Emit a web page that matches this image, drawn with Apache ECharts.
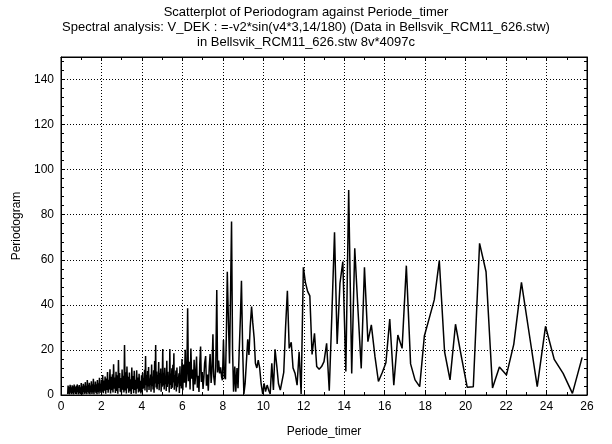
<!DOCTYPE html>
<html><head><meta charset="utf-8">
<script src="https://cdn.jsdelivr.net/npm/echarts@6/dist/echarts.min.js"></script>
<style>html,body{margin:0;padding:0;background:#fff}#c{width:612px;height:444px}</style>
</head><body><div id="c"></div>
<script>
const titleLines = [
  'Scatterplot of Periodogram against Periode_timer',
  'Spectral analysis: V_DEK : =-v2*sin(v4*3,14/180) (Data in Bellsvik_RCM11_626.stw)',
  'in Bellsvik_RCM11_626.stw 8v*4097c'
];
const xName = 'Periode_timer';
const yName = 'Periodogram';

// dense band 0.33 - 2
const bandShort = [[0.33,0.4],[0.35,4.2],[0.38,0.6],[0.40,3.6],[0.43,0.3],[0.45,4.5],[0.48,1.0],[0.50,3.4],[0.53,0.4],[0.55,4.3],[0.58,0.8],[0.60,3.9],[0.63,0.3],[0.65,4.6],[0.68,1.1],[0.70,3.5],[0.73,0.5],[0.75,4.1],[0.78,0.4],[0.80,4.7],[0.83,1.2],[0.85,3.7],[0.88,0.3],[0.90,4.4],[0.93,0.8],[0.95,3.4],[0.98,0.4],[1.00,5.3],[1.03,0.9],[1.05,3.9],[1.08,0.3],[1.10,5.0],[1.13,1.3],[1.15,4.2],[1.18,0.5],[1.20,5.7],[1.23,1.0],[1.25,3.9],[1.28,0.4],[1.30,6.6],[1.33,1.4],[1.35,4.5],[1.38,0.6],[1.40,5.4],[1.43,0.3],[1.45,4.2],[1.48,1.2],[1.50,6.1],[1.53,0.5],[1.55,4.8],[1.58,1.1],[1.60,7.2],[1.63,0.4],[1.65,4.5],[1.68,1.5],[1.70,6.0],[1.73,0.8],[1.75,4.7],[1.78,0.3],[1.80,6.6],[1.83,1.3],[1.85,5.2],[1.88,0.6],[1.90,7.6],[1.93,1.6],[1.95,5.0],[1.98,0.9]];
// dense band 2 - 4
const bandLow = [[2.00,6.8],[2.03,1.5],[2.06,8.9],[2.09,0.8],[2.12,6.4],[2.15,1.9],[2.18,8.2],[2.21,0.6],[2.24,7.3],[2.27,2.2],[2.30,10.2],[2.33,1.0],[2.36,6.8],[2.39,2.5],[2.42,11.4],[2.45,0.7],[2.48,8.1],[2.51,2.1],[2.54,9.2],[2.57,1.1],[2.60,13.6],[2.63,2.8],[2.66,7.7],[2.69,0.9],[2.72,10.3],[2.75,1.8],[2.78,8.7],[2.81,0.6],[2.84,15.5],[2.87,3.1],[2.90,9.8],[2.93,1.4],[2.96,7.5],[2.99,0.8],[3.02,11.3],[3.05,2.4],[3.08,8.5],[3.11,1.1],[3.14,22.2],[3.17,2.0],[3.20,10.1],[3.23,0.7],[3.26,12.6],[3.29,2.9],[3.32,8.1],[3.35,1.0],[3.38,10.0],[3.41,1.7],[3.44,7.0],[3.47,0.5],[3.50,12.2],[3.53,2.6],[3.56,8.4],[3.59,0.8],[3.62,10.7],[3.65,2.2],[3.68,6.8],[3.71,0.6],[3.74,11.0],[3.77,2.8],[3.80,7.8],[3.83,1.1],[3.86,9.4],[3.89,1.6],[3.92,6.3],[3.95,0.7],[3.98,8.8]];
// band 4 - 6
const bandMid = [[4.00,1.3],[4.03,9.8],[4.05,2.6],[4.08,7.4],[4.10,3.1],[4.13,11.2],[4.15,2.0],[4.18,17.3],[4.20,4.4],[4.23,8.9],[4.25,1.2],[4.28,10.6],[4.30,3.8],[4.33,12.4],[4.35,2.2],[4.38,7.3],[4.40,4.6],[4.43,9.1],[4.45,1.5],[4.48,13.5],[4.50,3.9],[4.53,8.2],[4.55,2.4],[4.58,11.0],[4.60,1.0],[4.63,15.1],[4.65,5.1],[4.68,22.2],[4.70,3.3],[4.73,10.4],[4.75,2.6],[4.78,8.7],[4.80,4.9],[4.83,14.6],[4.85,2.1],[4.88,9.7],[4.90,5.3],[4.93,11.8],[4.95,1.4],[4.98,8.6],[5.00,3.7],[5.03,20.4],[5.05,4.2],[5.08,9.9],[5.10,2.5],[5.13,12.1],[5.15,4.8],[5.18,8.4],[5.20,1.8],[5.23,15.2],[5.25,3.6],[5.28,10.3],[5.30,5.0],[5.33,7.6],[5.35,1.1],[5.38,20.4],[5.40,4.4],[5.43,9.5],[5.45,2.7],[5.48,11.9],[5.50,3.2],[5.53,13.4],[5.55,5.6],[5.58,18.5],[5.60,2.3],[5.63,8.8],[5.65,4.1],[5.68,10.9],[5.70,1.6],[5.73,12.2],[5.75,3.5],[5.78,7.9],[5.80,5.2],[5.83,9.6],[5.85,0.9],[5.88,12.8],[5.90,4.0],[5.93,8.3],[5.95,2.9],[5.98,16.0]];
// band 6 - 8
const bandUpper = [[6.02,2.1],[6.06,13.5],[6.10,5.4],[6.14,20.1],[6.18,3.3],[6.22,9.2],[6.26,38.5],[6.30,6.1],[6.34,14.8],[6.38,2.4],[6.42,20.6],[6.46,7.2],[6.50,11.3],[6.54,1.8],[6.58,15.6],[6.62,4.7],[6.66,9.4],[6.70,17.1],[6.74,3.2],[6.78,8.5],[6.82,1.3],[6.86,13.9],[6.90,21.5],[6.94,5.8],[6.98,10.2],[7.02,2.7],[7.06,7.6],[7.10,14.2],[7.15,17.3],[7.19,4.1],[7.24,9.1],[7.28,1.9],[7.33,12.7],[7.37,18.2],[7.42,5.3],[7.46,10.4],[7.51,27.0],[7.55,8.2],[7.60,4.4],[7.65,12.5],[7.70,46.6],[7.74,10.0],[7.79,15.3],[7.84,9.6],[7.89,12.3],[7.94,8.0],[7.98,6.5]];
// long periods 8 - 26
const longPeriods = [8.03,8.08,8.13,8.18,8.22,8.27,8.33,8.38,8.43,8.48,8.53,8.59,8.64,8.70,8.75,8.81,8.87,8.92,8.98,9.04,9.10,9.16,9.23,9.29,9.35,9.42,9.48,9.55,9.61,9.68,9.75,9.82,9.89,9.97,10.04,10.11,10.19,10.27,10.34,10.42,10.50,10.58,10.67,10.75,10.84,10.92,11.01,11.10,11.19,11.28,11.38,11.47,11.57,11.67,11.77,11.87,11.98,12.08,12.19,12.30,12.41,12.53,12.64,12.76,12.88,13.00,13.13,13.26,13.39,13.52,13.65,13.79,13.93,14.08,14.22,14.37,14.52,14.68,14.84,15.00,15.17,15.34,15.52,15.69,15.88,16.06,16.25,16.45,16.65,16.86,17.07,17.28,17.50,17.73,17.96,18.20,18.45,18.70,18.96,19.23,19.50,19.79,20.08,20.38,20.69,21.01,21.33,21.67,22.02,22.38,22.76,23.14,23.54,23.95,24.38,24.82,25.28,25.76];
const longValues = [24.4,8,7,30,54.7,35,14,45,77,20,1.5,12.6,1.5,12,3,20,35,50.7,20,0.5,5,14,24.7,17.8,30,39.2,32,25,14.1,12,15.5,12,5.2,0.5,5.2,1.5,4.4,2,0.5,14.1,2.2,20.3,12.6,5,2.2,1.9,10,30,46.3,20.7,23.4,12,9.6,4.4,19.2,0.5,56.7,50,46,44,18,27.4,12.6,11.4,12.6,14.8,22.9,1.9,36,72.2,22.6,49.6,59.2,10.4,91,9.6,65.1,37.7,11.8,56.7,23.7,31.1,17,6,10,14.3,33.7,4.4,26.6,20.7,57.4,13.8,6.7,3.7,26.2,34,42.2,59.6,19.2,6.7,31.4,17,3.4,3.7,67.3,54.7,3.1,12.4,8.9,22.5,50,27.4,3.7,30.5,15.8,9.6,0.7,16.7];

const xMin = 0, xMax = 26, xStep = 2;
const yMin = 0, yMax = 150, yStep = 20;

const seriesData = bandShort.concat(bandLow, bandMid, bandUpper,
  longPeriods.map((p, i) => [p, longValues[i]]));

const font = 'Arial, "Liberation Sans", sans-serif';
const dotted = {type: [1, 2], color: '#000', width: 1};
const baseX = {
  type: 'value', min: xMin, max: xMax, interval: xStep,
  axisLine: {show: true, onZero: false, lineStyle: {color: '#000', width: 1}},
  axisTick: {show: true, inside: true, length: 4, lineStyle: {color: '#000'}},
  minorTick: {show: true, splitNumber: 2, length: 3, lineStyle: {color: '#000'}},
};
const baseY = {
  type: 'value', min: yMin, max: yMax, interval: yStep,
  axisLine: {show: true, onZero: false, lineStyle: {color: '#000', width: 1}},
  axisTick: {show: true, inside: true, length: 4, lineStyle: {color: '#000'}},
  minorTick: {show: true, splitNumber: 5, length: 3, lineStyle: {color: '#000'}},
};

const chart = echarts.init(document.getElementById('c'), null, {renderer: 'canvas'});
chart.setOption({
  animation: false,
  backgroundColor: '#fff',
  title: {
    text: titleLines.join('\n'), left: 'center', top: 0,
    textStyle: {fontFamily: font, fontSize: 13, fontWeight: 'normal', color: '#000', lineHeight: 15}
  },
  grid: {left: 61, right: 25, top: 57, bottom: 49, show: true, borderColor: '#000', borderWidth: 1, backgroundColor: '#fff'},
  xAxis: [
    Object.assign({}, baseX, {
      position: 'bottom',
      name: xName, nameLocation: 'middle', nameGap: 31,
      nameTextStyle: {fontFamily: font, fontSize: 12, color: '#000'},
      axisLabel: {show: true, margin: 6, fontFamily: font, fontSize: 12, color: '#000'},
      splitLine: {show: true, lineStyle: dotted}
    }),
    Object.assign({}, baseX, {
      position: 'top', axisLabel: {show: false}, splitLine: {show: false}
    })
  ],
  yAxis: [
    Object.assign({}, baseY, {
      position: 'left',
      name: yName, nameLocation: 'middle', nameGap: 37,
      nameTextStyle: {fontFamily: font, fontSize: 12, color: '#000'},
      axisLabel: {show: true, margin: 7, showMaxLabel: false, fontFamily: font, fontSize: 12, color: '#000'},
      splitLine: {show: true, lineStyle: dotted}
    }),
    Object.assign({}, baseY, {
      position: 'right', axisLabel: {show: false}, splitLine: {show: false}
    })
  ],
  series: [{
    type: 'line', xAxisIndex: 0, yAxisIndex: 0,
    data: seriesData, showSymbol: false, symbol: 'none',
    lineStyle: {color: '#000', width: 1.5}, clip: true
  }]
});
</script></body></html>
